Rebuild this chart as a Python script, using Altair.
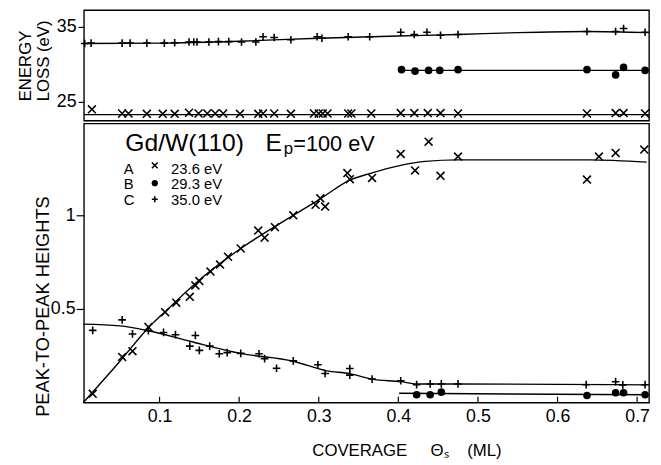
import altair as alt
import pandas as pd

FONT = "Liberation Sans"

# ---------------- data: energy-loss panel (eV) ----------------
topA_x = [0.015, 0.053, 0.061, 0.084, 0.104, 0.119, 0.137, 0.149, 0.160, 0.170, 0.180,
          0.201, 0.224, 0.230, 0.244, 0.265, 0.294, 0.300, 0.305, 0.311, 0.337, 0.341,
          0.366, 0.403, 0.420, 0.437, 0.453, 0.475, 0.637, 0.673, 0.683, 0.710]
topA_y = [24.0, 23.45, 23.45, 23.4, 23.4, 23.4, 23.55, 23.45, 23.45, 23.45, 23.45,
          23.4, 23.4, 23.45, 23.45, 23.4, 23.45, 23.45, 23.45, 23.45, 23.45, 23.45,
          23.45, 23.5, 23.5, 23.5, 23.5, 23.45, 23.45, 23.5, 23.5, 23.45]
topA_line_x = [0.005, 0.715]
topA_line_y = [23.3, 23.3]

topB_x = [0.404, 0.421, 0.438, 0.452, 0.475, 0.637, 0.673, 0.683, 0.710]
topB_y = [29.3, 29.1, 29.2, 29.2, 29.3, 29.3, 28.6, 29.6, 29.2]
topB_line_x = [0.403, 0.715]
topB_line_y = [29.2, 29.2]

topC_x = [0.006, 0.014, 0.053, 0.063, 0.084, 0.106, 0.119, 0.137, 0.143, 0.147, 0.162,
          0.174, 0.187, 0.203, 0.221, 0.230, 0.244, 0.265, 0.298, 0.304, 0.337, 0.364,
          0.403, 0.420, 0.436, 0.453, 0.475, 0.637, 0.673, 0.683, 0.710]
topC_y = [32.8, 32.85, 32.85, 32.85, 32.85, 32.85, 32.9, 33.0, 33.0, 33.0, 33.0,
          33.05, 33.05, 33.0, 33.0, 33.7, 33.6, 33.3, 33.7, 33.5, 33.7, 33.7,
          34.3, 34.0, 34.3, 33.9, 34.0, 34.4, 34.4, 34.8, 34.3]
topC_line_x = [0.005, 0.1, 0.2, 0.3, 0.4, 0.475, 0.55, 0.637, 0.715]
topC_line_y = [32.8, 32.85, 33.1, 33.5, 33.8, 34.0, 34.25, 34.4, 34.25]

# ---------------- data: peak-to-peak heights panel ----------------
botA_x = [0.016, 0.053, 0.066, 0.086, 0.107, 0.121, 0.138, 0.145, 0.150, 0.164, 0.176,
          0.186, 0.202, 0.224, 0.232, 0.245, 0.268, 0.296, 0.302, 0.308, 0.336, 0.339,
          0.367, 0.403, 0.421, 0.438, 0.453, 0.475, 0.637, 0.652, 0.673, 0.709]
botA_y = [0.047, 0.244, 0.275, 0.404, 0.483, 0.534, 0.565, 0.626, 0.649, 0.700, 0.737,
          0.779, 0.823, 0.919, 0.881, 0.937, 1.000, 1.056, 1.091, 1.047, 1.226, 1.193,
          1.200, 1.328, 1.240, 1.393, 1.211, 1.314, 1.191, 1.314, 1.333, 1.351]
botA_line_x = [0.004, 0.05, 0.086, 0.107, 0.15, 0.202, 0.268, 0.302, 0.339, 0.364,
               0.403, 0.434, 0.475, 0.64, 0.712]
botA_line_y = [0.0, 0.22, 0.40, 0.486, 0.655, 0.823, 1.0, 1.088, 1.188, 1.223,
               1.267, 1.288, 1.296, 1.296, 1.284]

botB_x = [0.423, 0.440, 0.454, 0.637, 0.673, 0.683, 0.710]
botB_y = [0.042, 0.042, 0.056, 0.038, 0.053, 0.053, 0.042]
botB_line_x = [0.401, 0.712]
botB_line_y = [0.050, 0.042]

botC_x = [0.016, 0.053, 0.066, 0.086, 0.105, 0.120, 0.145, 0.138, 0.150, 0.163, 0.175,
          0.185, 0.202, 0.225, 0.232, 0.247, 0.268, 0.299, 0.308, 0.339, 0.339, 0.367,
          0.403, 0.423, 0.440, 0.454, 0.475, 0.636, 0.673, 0.682, 0.710]
botC_y = [0.386, 0.442, 0.367, 0.384, 0.375, 0.363, 0.359, 0.302, 0.279, 0.302, 0.261,
          0.267, 0.263, 0.261, 0.235, 0.184, 0.223, 0.202, 0.156, 0.182, 0.147, 0.126,
          0.117, 0.096, 0.100, 0.100, 0.100, 0.096, 0.112, 0.095, 0.096]
botC_line_x = [0.004, 0.05, 0.086, 0.138, 0.202, 0.268, 0.31, 0.339, 0.367, 0.403,
               0.423, 0.475, 0.712]
botC_line_y = [0.419, 0.41, 0.384, 0.328, 0.263, 0.221, 0.17, 0.155, 0.126, 0.112,
               0.100, 0.100, 0.095]

x_ticks = [0.1, 0.2, 0.3, 0.4, 0.5, 0.6, 0.7]
top_y_ticks = [25, 35]
bot_y_ticks = [0.5, 1]

legend_letters = ["A", "B", "C"]
legend_values = ["23.6 eV", "29.3 eV", "35.0 eV"]

# ---------------- helpers ----------------
X_DOM = [0.005, 0.715]
TOP_DOM = [22.5, 37.25]
BOT_DOM = [0.0, 1.49]
CROSS = "M-1,-1L1,1M-1,1L1,-1"
PLUS = "M-1,0L1,0M0,-1L0,1"

XS = alt.Scale(domain=X_DOM, nice=False, zero=False)
NB = "\u00a0"

TOP_X_AXIS = None
TOP_Y_AXIS = alt.Axis(values=top_y_ticks, title=["ENERGY", "LOSS (eV)"], tickSize=6,
                      labelPadding=2, titleX=-59, titleY=92, titleAlign="left",
                      titleBaseline="middle", titleLineHeight=18, titleAngle=270)
BOT_X_AXIS = alt.Axis(values=x_ticks, format=".1f", ticks=False, labelPadding=5,
                      title="COVERAGE" + NB * 5 + "\u0398\u209b" + NB * 4 + "(ML)",
                      titleX=327, titleY=54, titleAlign="center",
                      titleBaseline="alphabetic")
BOT_Y_AXIS = alt.Axis(values=bot_y_ticks, format="~g", title="PEAK-TO-PEAK HEIGHTS",
                      tickSize=8, labelPadding=1, titleX=-42, titleY=185,
                      titleAlign="center", titleBaseline="middle", titleAngle=270,
                      titleFontSize=18.5)

PANELS = {
    "top": (TOP_DOM, TOP_X_AXIS, TOP_Y_AXIS),
    "bot": (BOT_DOM, BOT_X_AXIS, BOT_Y_AXIS),
}


def df(xs, ys):
    return pd.DataFrame({"x": xs, "y": ys})


def enc(panel):
    ydom, xax, yax = PANELS[panel]
    return dict(
        x=alt.X("x:Q", scale=XS, axis=xax),
        y=alt.Y("y:Q", scale=alt.Scale(domain=ydom, nice=False, zero=False), axis=yax),
    )


def line(xs, ys, panel):
    return alt.Chart(df(xs, ys)).mark_line(color="black", strokeWidth=1.4,
                                            interpolate="monotone").encode(**enc(panel))


def pts(xs, ys, panel, kind, size=None):
    if kind == "x":
        m = alt.Chart(df(xs, ys)).mark_point(shape=CROSS, filled=False, stroke="black",
                                             strokeWidth=1.6, size=size or 64, opacity=1)
    elif kind == "+":
        m = alt.Chart(df(xs, ys)).mark_point(shape=PLUS, filled=False, stroke="black",
                                             strokeWidth=1.6, size=size or 60, opacity=1)
    else:
        m = alt.Chart(df(xs, ys)).mark_circle(color="black", size=size or 60, opacity=1)
    return m.encode(**enc(panel))


def txt(xs, ys, texts, size):
    d = pd.DataFrame({"x": xs, "y": ys, "t": texts})
    return alt.Chart(d).mark_text(font=FONT, fontSize=size, align="left",
                                  baseline="alphabetic", color="black").encode(
        text="t:N", **enc("bot"))


# ---------------- top panel ----------------
top = alt.layer(
    line(topA_line_x, topA_line_y, "top"), pts(topA_x, topA_y, "top", "x"),
    line(topB_line_x, topB_line_y, "top"), pts(topB_x, topB_y, "top", "o"),
    line(topC_line_x, topC_line_y, "top"), pts(topC_x, topC_y, "top", "+"),
).properties(width=573, height=112)

# ---------------- bottom panel ----------------
x_tick_marks = alt.Chart(pd.DataFrame({"x": x_ticks})).mark_rule(
    color="black", strokeWidth=1.2).encode(
    x=alt.X("x:Q", scale=XS, axis=BOT_X_AXIS),
    y=alt.value(283), y2=alt.value(277),
)

bottom = alt.layer(
    line(botA_line_x, botA_line_y, "bot"), pts(botA_x, botA_y, "bot", "x"),
    line(botB_line_x, botB_line_y, "bot"), pts(botB_x, botB_y, "bot", "o"),
    line(botC_line_x, botC_line_y, "bot"), pts(botC_x, botC_y, "bot", "+"),
    x_tick_marks,
    txt([0.057], [1.342], ["Gd/W(110)"], 25),
    txt([0.233], [1.342], ["E"], 25),
    txt([0.256], [1.326], ["p"], 17),
    txt([0.268], [1.342], ["=100 eV"], 22),
    txt([0.055] * 3, [1.223, 1.138, 1.056], legend_letters, 15),
    txt([0.1145] * 3, [1.223, 1.138, 1.056], legend_values, 15),
    pts([0.094], [1.267], "bot", "x", size=34),
    pts([0.094], [1.172], "bot", "o", size=40),
    pts([0.094], [1.086], "bot", "+", size=36),
).properties(width=573, height=283)

chart = alt.vconcat(top, bottom, spacing=0).properties(
    padding={"left": 8, "top": -2, "right": 0, "bottom": 0}, background="white"
).configure_view(stroke="black", strokeWidth=1.4).configure_axis(
    labelFont=FONT, labelFontSize=18, labelColor="black", tickColor="black",
    tickWidth=1.2, domain=False, grid=False, titleFont=FONT, titleFontSize=17,
    titleFontWeight="normal", titleColor="black",
)

chart.save("out.html", embed_options={"renderer": "svg", "actions": False})
